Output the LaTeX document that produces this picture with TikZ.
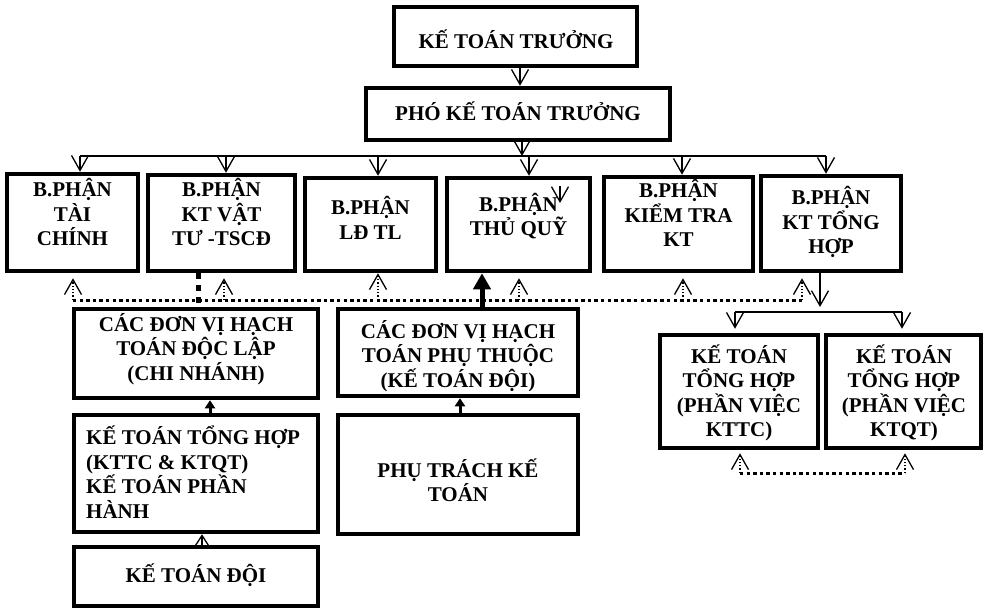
\documentclass[tikz,border=0pt]{standalone}
\usepackage{fontspec}
\setmainfont{Liberation Serif}
\usetikzlibrary{arrows.meta,fit}
\tikzset{
  box/.style={draw, line width=4.5pt, inner sep=0pt, rectangle},
  txt/.style={font=\bfseries\fontsize{21}{24.5}\selectfont, align=center, inner sep=0pt},
  oarr/.style={line width=1.3pt, -{Straight Barb[length=15pt,width=17pt,line width=1.3pt]}},
  uarr/.style={line width=1.3pt, dash pattern=on 1.3pt off 2pt, -{Straight Barb[length=15pt,width=17pt,line width=1.3pt]}},
  conn/.style={line width=1.6pt},
  thickdot/.style={line width=3pt, dash pattern=on 3.3pt off 3.3pt},
  thickdash/.style={line width=5pt, dash pattern=on 6pt off 6pt},
  bigarr/.style={line width=5pt, -{Triangle[length=16pt,width=17pt]}},
  smallarr/.style={line width=3pt, -{Triangle[length=8pt,width=10pt]}},
  smallopen/.style={line width=1.3pt, -{Straight Barb[length=10pt,width=13pt,line width=1.3pt]}}
}
\begin{document}
\begin{tikzpicture}[x=1pt,y=-1pt]
\useasboundingbox (0,0) rectangle (989,610);
% boxes
\node[box, fit={(394,7) (637,66)}] (top) {};
\node[box, fit={(366,88) (670,140)}] (pho) {};
\node[box, fit={(7,174) (138,271)}] (b1) {};
\node[box, fit={(148,175) (295,271)}] (b2) {};
\node[box, fit={(305,178) (436,271)}] (b3) {};
\node[box, fit={(447,178) (590,271)}] (b4) {};
\node[box, fit={(604,177) (753,271)}] (b5) {};
\node[box, fit={(761,176) (901,271)}] (b6) {};
\node[box, fit={(74,309) (318,398)}] (c1) {};
\node[box, fit={(74,415) (318,532)}] (c2) {};
\node[box, fit={(74,547) (318,606)}] (c3) {};
\node[box, fit={(338,309) (578,396)}] (d1) {};
\node[box, fit={(338,415) (578,534)}] (d2) {};
\node[box, fit={(660,335) (818,448)}] (e1) {};
\node[box, fit={(826,335) (981,448)}] (e2) {};
% texts
\node[txt] (ttop) at (516,39) {KẾ TOÁN TRƯỞNG};
\node[txt] (tpho) at (518,111) {PHÓ KẾ TOÁN TRƯỞNG};
\node[txt] (t1) at (72.5,212) {B.PHẬN\\TÀI\\CHÍNH};
\node[txt] (t2) at (221.5,212) {B.PHẬN\\KT VẬT\\TƯ -TSCĐ};
\node[txt] (t3) at (370.5,218) {B.PHẬN\\LĐ TL};
\node[txt] (t4) at (518.5,216) {B.PHẬN\\THỦ QUỸ};
\node[txt] (t5) at (678.5,213) {B.PHẬN\\KIỂM TRA\\KT};
\node[txt] (t6) at (831,222) {B.PHẬN\\KT TỔNG\\HỢP};
\node[txt] (tc1) at (196,349) {CÁC ĐƠN VỊ HẠCH\\TOÁN ĐỘC LẬP\\(CHI NHÁNH)};
\node[txt, align=left, anchor=west] (tc2) at (86,472) {KẾ TOÁN TỔNG HỢP\\(KTTC \& KTQT)\\KẾ TOÁN PHẦN\\HÀNH};
\node[txt] (tc3) at (196,575) {KẾ TOÁN ĐỘI};
\begin{scope}
\clip (338,300) rectangle (578,390);
\node[txt] (td1) at (458,356) {CÁC ĐƠN VỊ HẠCH\\TOÁN PHỤ THUỘC\\(KẾ TOÁN ĐỘI)};
\end{scope}
\node[txt] (td2) at (458,480) {PHỤ TRÁCH KẾ\\TOÁN};
\node[txt] (te1) at (739,393) {KẾ TOÁN\\TỔNG HỢP\\(PHẦN VIỆC\\KTTC)};
\node[txt] (te2) at (904,393) {KẾ TOÁN\\TỔNG HỢP\\(PHẦN VIỆC\\KTQT)};
% top connectors
\coordinate (ka) at (520,0);
\draw[oarr] (ka |- top.south) -- (ka |- pho.north);
\coordinate (hL) at (80,156);
\coordinate (hR) at (826,156);
\draw[conn] (hL) -- (hR);
\coordinate (kb) at (522,156);
\draw[oarr] (kb |- pho.south) -- (kb);
\coordinate (h1) at (80,156);
\coordinate (h2) at (226,156);
\coordinate (h3) at (378,156);
\coordinate (h4) at (529,156);
\coordinate (h5) at (682,156);
\coordinate (h6) at (826,156);
\draw[oarr] (h1) -- (h1 |- b1.north);
\draw[oarr] (h2) -- (h2 |- b2.north);
\draw[oarr] (h3) -- (h3 |- b3.north);
\draw[oarr] (h4) -- (h4 |- b4.north);
\draw[oarr] (h5) -- (h5 |- b5.north);
\draw[oarr] (h6) -- (h6 |- b6.north);
% stray arrow inside b4
\coordinate (s1) at (560,186);
\coordinate (s2) at (560,203);
\draw[oarr] (s1) -- (s2);
% dotted line under row
\coordinate (p1) at (73,300);
\coordinate (p2) at (224,300);
\coordinate (p3) at (378,300);
\coordinate (p4) at (519,300);
\coordinate (p5) at (683,300);
\coordinate (p6) at (802,300);
\draw[thickdot] (p1) -- (p6);
\draw[uarr, shorten >=5pt] (p1) -- (p1 |- b1.south);
\draw[uarr, shorten >=5pt] (p2) -- (p2 |- b2.south);
\draw[uarr] (p3) -- (p3 |- b3.south);
\draw[uarr, shorten >=5pt] (p4) -- (p4 |- b4.south);
\draw[uarr, shorten >=5pt] (p5) -- (p5 |- b5.south);
\draw[uarr, shorten >=5pt] (p6) -- (p6 |- b6.south);
% thick dashed and thick arrow
\coordinate (v1) at (198,0);
\draw[thickdash] (v1 |- b2.south) -- (v1 |- c1.north);
\coordinate (v2) at (482,0);
\draw[bigarr] (v2 |- d1.north) -- (v2 |- b4.south);
% right branch
\coordinate (q0) at (820,307);
\draw[oarr] (q0 |- b6.south) -- (q0);
\coordinate (r1) at (735,312);
\coordinate (r2) at (902,312);
\draw[conn] (r1) -- (r2);
\draw[oarr, shorten >=4pt] (r1) -- (r1 |- e1.north);
\draw[oarr, shorten >=4pt] (r2) -- (r2 |- e2.north);
\coordinate (u1) at (740,473);
\coordinate (u2) at (905,473);
\draw[thickdot] (u1) -- (u2);
\draw[uarr, shorten >=3pt] (u1) -- (u1 |- e1.south);
\draw[uarr, shorten >=3pt] (u2) -- (u2 |- e2.south);
% lower small arrows
\coordinate (w1) at (210,0);
\draw[smallarr] (w1 |- c2.north) -- (w1 |- c1.south);
\coordinate (w2) at (460,0);
\draw[smallarr] (w2 |- d2.north) -- (w2 |- d1.south);
\coordinate (w3) at (202,0);
\draw[smallopen] (w3 |- c3.north) -- (w3 |- c2.south);
\end{tikzpicture}
\end{document}
